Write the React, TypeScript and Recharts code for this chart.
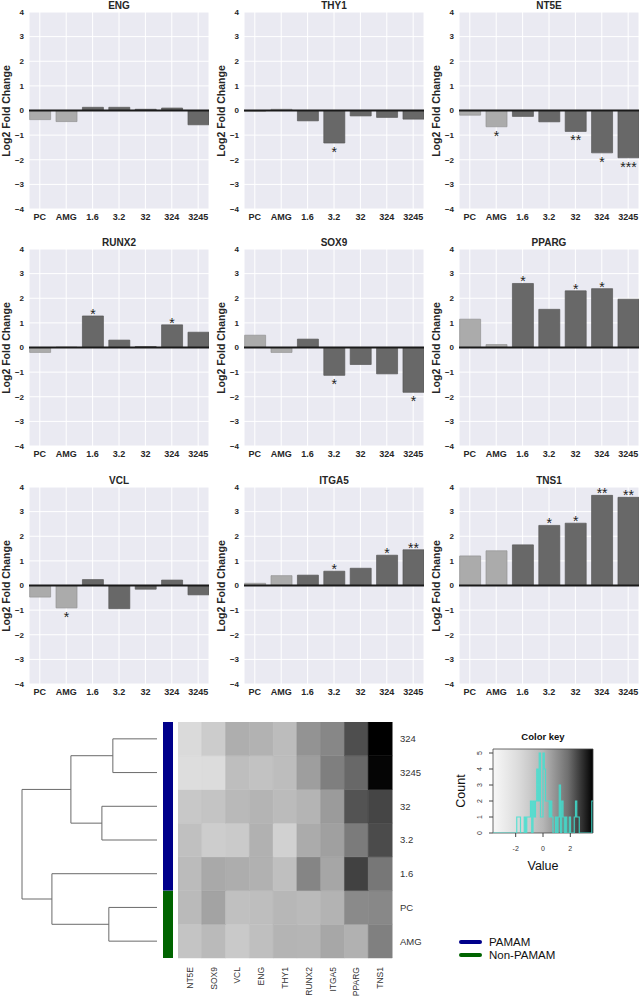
import React from 'react';
import {
  BarChart,
  Bar,
  XAxis,
  YAxis,
  CartesianGrid,
  ReferenceLine,
  LabelList,
  Cell,
  ScatterChart,
  Scatter,
  ComposedChart,
  Line,
  ReferenceArea,
} from 'recharts';

const FONT = '"Liberation Sans", Arial, Helvetica, sans-serif';

// treatment groups on the bar charts
const CATEGORIES = ['PC', 'AMG', '1.6', '3.2', '32', '324', '3245'];
const CONTROLS = ['PC', 'AMG'];
const Y_TICKS = [-4, -3, -2, -1, 0, 1, 2, 3, 4];

// log2 fold change per gene, in CATEGORIES order
const ENG = [-0.37, -0.45, 0.13, 0.13, 0.05, 0.1, -0.58];
const THY1 = [-0.03, 0.05, -0.42, -1.32, -0.22, -0.28, -0.35];
const NT5E = [-0.19, -0.66, -0.24, -0.46, -0.85, -1.72, -1.92];
const RUNX2 = [-0.2, 0.02, 1.28, 0.3, 0.04, 0.92, 0.62];
const SOX9 = [0.5, -0.2, 0.34, -1.13, -0.69, -1.07, -1.82];
const PPARG = [1.15, 0.12, 2.6, 1.55, 2.3, 2.39, 1.96];
const VCL = [-0.47, -0.91, 0.24, -0.94, -0.15, 0.22, -0.38];
const ITGA5 = [0.09, 0.4, 0.42, 0.58, 0.7, 1.23, 1.45];
const TNS1 = [1.2, 1.41, 1.65, 2.44, 2.53, 3.66, 3.58];

// significance marks
const ENG_SIG = ['', '', '', '', '', '', ''];
const THY1_SIG = ['', '', '', '*', '', '', ''];
const NT5E_SIG = ['', '*', '', '', '**', '*', '***'];
const RUNX2_SIG = ['', '', '*', '', '', '*', ''];
const SOX9_SIG = ['', '', '', '*', '', '', '*'];
const PPARG_SIG = ['', '', '*', '', '*', '*', ''];
const VCL_SIG = ['', '*', '', '', '', '', ''];
const ITGA5_SIG = ['', '', '', '*', '', '*', '**'];
const TNS1_SIG = ['', '', '', '*', '*', '**', '**'];

const GENE_VALUES: Record<string, number[]> = { ENG, THY1, NT5E, RUNX2, SOX9, PPARG, VCL, ITGA5, TNS1 };

const PANELS = [
  { gene: 'ENG', sig: ENG_SIG },
  { gene: 'THY1', sig: THY1_SIG },
  { gene: 'NT5E', sig: NT5E_SIG },
  { gene: 'RUNX2', sig: RUNX2_SIG },
  { gene: 'SOX9', sig: SOX9_SIG },
  { gene: 'PPARG', sig: PPARG_SIG },
  { gene: 'VCL', sig: VCL_SIG },
  { gene: 'ITGA5', sig: ITGA5_SIG },
  { gene: 'TNS1', sig: TNS1_SIG },
];

// heatmap layout
const HEAT_GENES = ['NT5E', 'SOX9', 'VCL', 'ENG', 'THY1', 'RUNX2', 'ITGA5', 'PPARG', 'TNS1'];
const HEAT_ROWS = ['324', '3245', '32', '3.2', '1.6', 'PC', 'AMG'];

// row dendrogram, R style merge table (negative = leaf number in HEAT_ROWS, 1-based)
const MERGE_LEFT = [-1, -3, 1, -6, -5, 3];
const MERGE_RIGHT = [-2, -4, 2, -7, 4, 5];
const MERGE_HEIGHT = [1.21, 1.51, 2.36, 1.32, 2.88, 3.7];

// side colour bar
const SIDE_GROUPS = ['PAMAM', 'Non-PAMAM'];
const SIDE_COUNTS = [5, 2];
const SIDE_COLORS = ['#00008B', '#006400'];

const HIST_BINS = 80;

// ---------- helpers ----------
const KEY_MAX = Math.max(...Object.values(GENE_VALUES).flat().map((v) => Math.abs(v)));
const GREY_STOPS: [number, number][] = [
  [0, 248],
  [0.25, 220],
  [0.5, 182],
  [0.75, 112],
  [1, 0],
];

function greyAt(t: number) {
  const c = Math.min(1, Math.max(0, t));
  for (let i = 1; i < GREY_STOPS.length; i++) {
    const [t0, g0] = GREY_STOPS[i - 1];
    const [t1, g1] = GREY_STOPS[i];
    if (c <= t1) {
      const g = Math.round(g0 + ((c - t0) / (t1 - t0)) * (g1 - g0));
      return `rgb(${g},${g},${g})`;
    }
  }
  return 'rgb(0,0,0)';
}
const heatColor = (v: number) => greyAt((v + KEY_MAX) / (2 * KEY_MAX));
const valueOf = (gene: string, row: string) => GENE_VALUES[gene][CATEGORIES.indexOf(row)];

const fmtY = (v: number) => (v < 0 ? `\u2212${Math.abs(v)}` : `${v}`);

// ---------- bar panel ----------
const COL_LEFT = [29, 244, 459];
const ROW_TOP = [12, 249, 487];
const PLOT_W = 180;
const PLOT_H = 197;

function GenePanel({ gene, sig, left, top }: { gene: string; sig: string[]; left: number; top: number }) {
  const values = GENE_VALUES[gene];
  const data = values.map((v, i) => ({ idx: i, v, sig: sig[i] }));

  const renderStar = (props: any) => {
    const vb = props.viewBox || {};
    const x = props.x ?? vb.x;
    const y = props.y ?? vb.y;
    const w = props.width ?? vb.width;
    const h = props.height ?? vb.height;
    const s = props.value;
    if (!s) return null;
    const v = values[props.index];
    const t = Math.min(y, y + h);
    const b = Math.max(y, y + h);
    const ty = v >= 0 ? t + 3 : b + 14;
    return (
      <text x={x + w / 2} y={ty} textAnchor="middle" fontSize={14} fill="#222" fontFamily={FONT}>
        {s}
      </text>
    );
  };

  return (
    <div style={{ position: 'absolute', left: left - 29, top: top - 12, width: 211, height: 231 }}>
      <BarChart width={211} height={231} data={data} margin={{ top: 12, right: 2, bottom: 0, left: 0 }}>
        <CartesianGrid fill="#EAEAF2" stroke="#ffffff" strokeWidth={1} />
        <XAxis
          type="number"
          dataKey="idx"
          domain={[-0.41, 6.41]}
          ticks={CATEGORIES.map((_, i) => i)}
          tickFormatter={(i: number) => CATEGORIES[i]}
          interval={0}
          allowDataOverflow
          axisLine={false}
          tickLine={false}
          tickSize={0}
          tickMargin={5}
          height={22}
          tick={{ fill: '#262626', fontSize: 9, fontWeight: 'bold', fontFamily: FONT }}
        />
        <YAxis
          type="number"
          domain={[-4, 4]}
          ticks={Y_TICKS}
          tickFormatter={fmtY}
          interval={0}
          allowDataOverflow
          axisLine={false}
          tickLine={false}
          tickSize={0}
          tickMargin={5}
          width={29}
          tick={{ fill: '#262626', fontSize: 8, fontWeight: 'bold', fontFamily: FONT }}
        />
        <Bar dataKey="v" barSize={21} isAnimationActive={false}>
          {data.map((d) => {
            const ctrl = CONTROLS.includes(CATEGORIES[d.idx]);
            return (
              <Cell
                key={d.idx}
                fill={ctrl ? '#ababab' : '#686868'}
                stroke={ctrl ? '#949494' : '#575757'}
                strokeWidth={0.7}
              />
            );
          })}
          <LabelList dataKey="sig" content={renderStar} />
        </Bar>
        <ReferenceLine y={0} stroke="#1a1a1a" strokeWidth={1.8} />
      </BarChart>
      <div
        style={{
          position: 'absolute',
          left: 29,
          top: 0,
          width: PLOT_W,
          height: 12,
          textAlign: 'center',
          font: `bold 10px ${FONT}`,
          lineHeight: '11px',
          color: '#262626',
        }}
      >
        {gene}
      </div>
      <div
        style={{
          position: 'absolute',
          left: 29 - 22 - 60,
          top: 12 + PLOT_H / 2 - 7,
          width: 120,
          height: 14,
          lineHeight: '14px',
          textAlign: 'center',
          transform: 'rotate(-90deg)',
          font: `bold 10.5px ${FONT}`,
          color: '#262626',
          whiteSpace: 'nowrap',
        }}
      >
        Log2 Fold Change
      </div>
    </div>
  );
}

// ---------- dendrogram ----------
function dendroSegments() {
  const nodes: { h: number; y: number }[] = [];
  const pos = (id: number) => (id < 0 ? { h: 0, y: -id - 1 } : nodes[id - 1]);
  const segs: { h: number; y: number }[][] = [];
  MERGE_HEIGHT.forEach((h, j) => {
    const a = pos(MERGE_LEFT[j]);
    const b = pos(MERGE_RIGHT[j]);
    nodes.push({ h, y: (a.y + b.y) / 2 });
    segs.push([
      { h: a.h, y: a.y },
      { h, y: a.y },
      { h, y: b.y },
      { h: b.h, y: b.y },
    ]);
  });
  return segs;
}

const HEAT_TOP = 722;
const HEAT_H = 236;
const HEAT_LEFT = 178;
const HEAT_W = 214;
const DENDRO_W = 157;
const DENDRO_X_MAX = (MERGE_HEIGHT[MERGE_HEIGHT.length - 1] * DENDRO_W) / 135;

const HeatGeneTick = ({ x, y, payload }: any) => (
  <text
    x={x}
    y={y + 9}
    transform={`rotate(-90 ${x} ${y + 9})`}
    textAnchor="end"
    dominantBaseline="central"
    fontSize={8.5}
    fill="#333"
    fontFamily={FONT}
  >
    {payload.value}
  </text>
);

const CountTick = ({ x, y, payload }: any) => (
  <text x={x} y={y} transform={`rotate(-90 ${x} ${y})`} textAnchor="middle" fontSize={7} fill="#333" fontFamily={FONT}>
    {payload.value}
  </text>
);

function histogram() {
  const counts = new Array(HIST_BINS).fill(0);
  const w = (2 * KEY_MAX) / HIST_BINS;
  Object.values(GENE_VALUES)
    .flat()
    .forEach((v) => {
      const b = Math.min(HIST_BINS - 1, Math.floor((v + KEY_MAX) / w));
      counts[b] += 1;
    });
  const pts = counts.map((c, i) => ({ x: -KEY_MAX + i * w, c }));
  pts.push({ x: KEY_MAX, c: counts[HIST_BINS - 1] });
  return pts;
}

export default function App() {
  const segs = dendroSegments();
  const heatData = HEAT_GENES.map((g) => {
    const row: Record<string, any> = { gene: g };
    HEAT_ROWS.forEach((_, ri) => (row[`r${ri}`] = 1));
    return row;
  });
  const sideData = [{ k: 'side', pamam: SIDE_COUNTS[0], non: SIDE_COUNTS[1] }];
  const hist = histogram();

  return (
    <div
      style={{
        position: 'absolute',
        left: 0,
        top: 0,
        width: 640,
        height: 999,
        background: '#ffffff',
        overflow: 'hidden',
        fontFamily: FONT,
      }}
    >
      {PANELS.map((p, i) => (
        <GenePanel key={p.gene} gene={p.gene} sig={p.sig} left={COL_LEFT[i % 3]} top={ROW_TOP[Math.floor(i / 3)]} />
      ))}

      {/* dendrogram */}
      <div style={{ position: 'absolute', left: 0, top: HEAT_TOP }}>
        <ScatterChart width={DENDRO_W} height={HEAT_H} margin={{ top: 0, right: 0, bottom: 0, left: 0 }}>
          <XAxis type="number" dataKey="h" domain={[0, DENDRO_X_MAX]} reversed hide allowDataOverflow />
          <YAxis type="number" dataKey="y" domain={[-0.5, 6.5]} reversed hide allowDataOverflow />
          {segs.map((pts, i) => (
            <Scatter
              key={i}
              data={pts}
              line={{ stroke: '#6a6a6a', strokeWidth: 1 }}
              shape={() => <g />}
              isAnimationActive={false}
            />
          ))}
        </ScatterChart>
      </div>

      {/* side colour bar */}
      <div style={{ position: 'absolute', left: 163, top: HEAT_TOP }}>
        <BarChart width={10} height={HEAT_H} data={sideData} margin={{ top: 0, right: 0, bottom: 0, left: 0 }} barCategoryGap={0}>
          <XAxis dataKey="k" hide />
          <YAxis type="number" domain={[0, 7]} hide />
          <Bar dataKey="non" stackId="s" fill={SIDE_COLORS[1]} isAnimationActive={false} />
          <Bar dataKey="pamam" stackId="s" fill={SIDE_COLORS[0]} isAnimationActive={false} />
        </BarChart>
      </div>

      {/* heatmap */}
      <div style={{ position: 'absolute', left: HEAT_LEFT, top: HEAT_TOP }}>
        <BarChart
          width={HEAT_W + 34}
          height={HEAT_H + 41}
          data={heatData}
          margin={{ top: 0, right: 0, bottom: 0, left: 0 }}
          barCategoryGap={0}
        >
          <XAxis
            dataKey="gene"
            interval={0}
            axisLine={false}
            tickLine={false}
            tickSize={0}
            tickMargin={0}
            height={41}
            tick={<HeatGeneTick />}
          />
          <YAxis
            orientation="right"
            type="number"
            domain={[0, 7]}
            ticks={HEAT_ROWS.map((_, i) => i + 0.5)}
            tickFormatter={(v: number) => HEAT_ROWS[Math.round(6.5 - v)]}
            interval={0}
            axisLine={false}
            tickLine={false}
            tickSize={0}
            tickMargin={8}
            width={34}
            tick={{ fill: '#333', fontSize: 9.5, fontFamily: FONT, textAnchor: 'start' }}
          />
          {HEAT_ROWS.map((_, k) => {
            const ri = HEAT_ROWS.length - 1 - k;
            return (
              <Bar key={ri} dataKey={`r${ri}`} stackId="h" isAnimationActive={false}>
                {HEAT_GENES.map((g) => {
                  const c = heatColor(valueOf(g, HEAT_ROWS[ri]));
                  return <Cell key={g} fill={c} stroke={c} strokeWidth={0.5} />;
                })}
              </Bar>
            );
          })}
        </BarChart>
      </div>

      {/* colour key */}
      <div
        style={{
          position: 'absolute',
          left: 493,
          top: 731,
          width: 100,
          textAlign: 'center',
          font: `bold 9.5px ${FONT}`,
          color: '#111',
        }}
      >
        Color key
      </div>
      <div style={{ position: 'absolute', left: 455, top: 745 }}>
        <ComposedChart width={140} height={128} data={hist} margin={{ top: 4, right: 2, bottom: 0, left: 0 }}>
          <defs>
            <linearGradient id="ckGrad" x1="0" y1="0" x2="1" y2="0">
              {GREY_STOPS.map(([t]) => (
                <stop key={t} offset={`${t * 100}%`} stopColor={greyAt(t)} />
              ))}
            </linearGradient>
          </defs>
          <XAxis
            type="number"
            dataKey="x"
            domain={[-KEY_MAX, KEY_MAX]}
            ticks={[-2, 0, 2]}
            allowDataOverflow
            axisLine={false}
            tickLine={{ stroke: '#444' }}
            tickSize={4}
            tickMargin={9}
            height={40}
            tick={{ fill: '#333', fontSize: 7, fontFamily: FONT }}
          />
          <YAxis
            type="number"
            domain={[0, 5.25]}
            ticks={[0, 1, 2, 3, 4, 5]}
            interval={0}
            allowDataOverflow
            axisLine={false}
            tickLine={{ stroke: '#444' }}
            tickSize={4}
            tickMargin={7}
            width={38}
            tick={<CountTick />}
          />
          <ReferenceArea
            x1={-KEY_MAX}
            x2={KEY_MAX}
            y1={0}
            y2={5.25}
            fill="url(#ckGrad)"
            fillOpacity={1}
            stroke="#444"
            strokeWidth={0.8}
          />
          <Line
            type="stepAfter"
            dataKey="c"
            stroke="#40E0D0"
            strokeWidth={1.2}
            strokeOpacity={0.85}
            dot={false}
            isAnimationActive={false}
          />
        </ComposedChart>
      </div>
      <div
        style={{
          position: 'absolute',
          left: 462 - 40,
          top: 791 - 8,
          width: 80,
          height: 16,
          lineHeight: '16px',
          textAlign: 'center',
          transform: 'rotate(-90deg)',
          font: `12.5px ${FONT}`,
          color: '#111',
        }}
      >
        Count
      </div>
      <div
        style={{
          position: 'absolute',
          left: 503,
          top: 859,
          width: 80,
          textAlign: 'center',
          font: `12.5px ${FONT}`,
          color: '#111',
        }}
      >
        Value
      </div>

      {/* legend */}
      <svg style={{ position: 'absolute', left: 455, top: 934 }} width={150} height={30}>
        {SIDE_GROUPS.map((g, i) => (
          <g key={g}>
            <line
              x1={6}
              x2={25}
              y1={8 + i * 13}
              y2={8 + i * 13}
              stroke={SIDE_COLORS[i]}
              strokeWidth={4}
              strokeLinecap="round"
            />
            <text x={34} y={8 + i * 13} dominantBaseline="central" fontSize={11.5} fill="#111" fontFamily={FONT}>
              {g}
            </text>
          </g>
        ))}
      </svg>
    </div>
  );
}
